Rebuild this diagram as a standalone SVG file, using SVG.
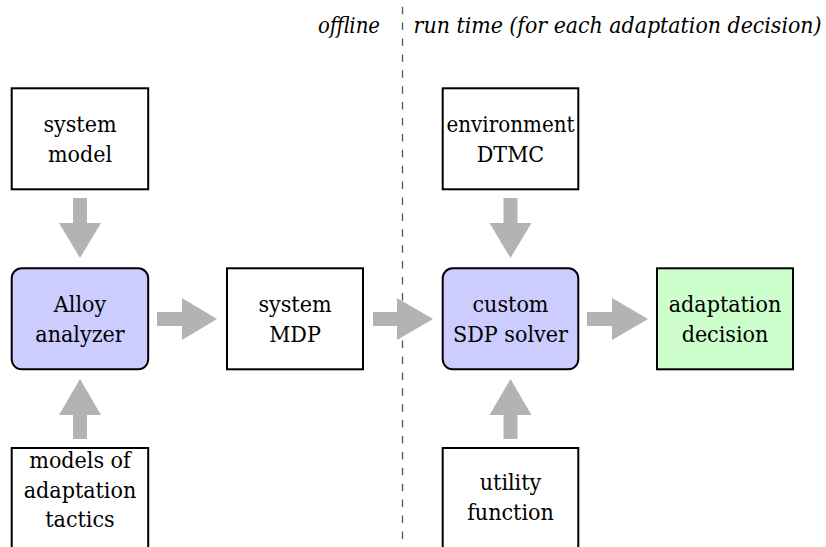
<svg xmlns="http://www.w3.org/2000/svg" width="826" height="547" viewBox="0 0 826 547">
<style>
.box{fill:#fff;stroke:#000;stroke-width:2}
.blue{fill:#ccccff}
.green{fill:#ccffcc}
text{font-family:'DejaVu Serif Condensed','DejaVu Serif',serif;font-stretch:condensed;font-size:23px;fill:#000}
.t{text-anchor:middle}
.it{font-style:italic}
.arr{fill:#b3b3b3}
.dash{stroke:#555;stroke-width:1.3;stroke-dasharray:7.5 8.4;fill:none}
</style>
<rect width="826" height="547" fill="#fff"/>
<g id="labels">
<text class="it" x="318" y="33" textLength="62" lengthAdjust="spacingAndGlyphs">offline</text>
<text class="it" x="413.6" y="33" textLength="408" lengthAdjust="spacingAndGlyphs">run time (for each adaptation decision)</text>
</g>
<line class="dash" x1="402.5" y1="6.7" x2="402.5" y2="547"/>
<g id="connectors">
<polygon class="arr" points="73,198 87,198 87,223 101,223 80,258 59,223 73,223"/>
<polygon class="arr" points="503.5,198 517.5,198 517.5,223 531.5,223 510.5,258 489.5,223 503.5,223"/>
<polygon class="arr" points="73,439 87,439 87,415 101,415 80,379 59,415 73,415"/>
<polygon class="arr" points="503.5,439 517.5,439 517.5,415 531.5,415 510.5,379 489.5,415 503.5,415"/>
<polygon class="arr" points="157,312 182,312 182,298 217,319 182,340 182,326 157,326"/>
<polygon class="arr" points="373,312 397,312 397,298 433,319 397,340 397,326 373,326"/>
<polygon class="arr" points="587,312 612,312 612,298 648,319 612,340 612,326 587,326"/>
</g>
<g id="system-model">
<rect class="box" x="11.7" y="88.3" width="136.5" height="101"/>
<text class="t" x="80" y="132">system</text>
<text class="t" x="80" y="161.5">model</text>
</g>
<g id="alloy-analyzer">
<rect class="box blue" x="11.7" y="268.3" width="136.5" height="101" rx="10"/>
<text class="t" x="80" y="312">Alloy</text>
<text class="t" x="80" y="341.5">analyzer</text>
</g>
<g id="models-of-tactics">
<rect class="box" x="11.7" y="448" width="136.5" height="101"/>
<text class="t" x="80" y="468">models of</text>
<text class="t" x="80" y="497.5">adaptation</text>
<text class="t" x="80" y="527">tactics</text>
</g>
<g id="system-mdp">
<rect class="box" x="227" y="268.3" width="136" height="101"/>
<text class="t" x="295" y="312">system</text>
<text class="t" x="295" y="341.5">MDP</text>
</g>
<g id="environment-dtmc">
<rect class="box" x="442.7" y="88.3" width="135.6" height="101"/>
<text class="t" x="510.5" y="132" textLength="128" lengthAdjust="spacingAndGlyphs">environment</text>
<text class="t" x="510.5" y="161.5">DTMC</text>
</g>
<g id="custom-sdp-solver">
<rect class="box blue" x="442.7" y="268.3" width="135.6" height="101" rx="10"/>
<text class="t" x="510.5" y="312">custom</text>
<text class="t" x="510.5" y="341.5">SDP solver</text>
</g>
<g id="utility-function">
<rect class="box" x="442.7" y="448" width="135.6" height="101"/>
<text class="t" x="510.5" y="490">utility</text>
<text class="t" x="510.5" y="519.5">function</text>
</g>
<g id="adaptation-decision">
<rect class="box green" x="657" y="268.3" width="136" height="101"/>
<text class="t" x="725" y="312">adaptation</text>
<text class="t" x="725" y="341.5">decision</text>
</g>
</svg>
